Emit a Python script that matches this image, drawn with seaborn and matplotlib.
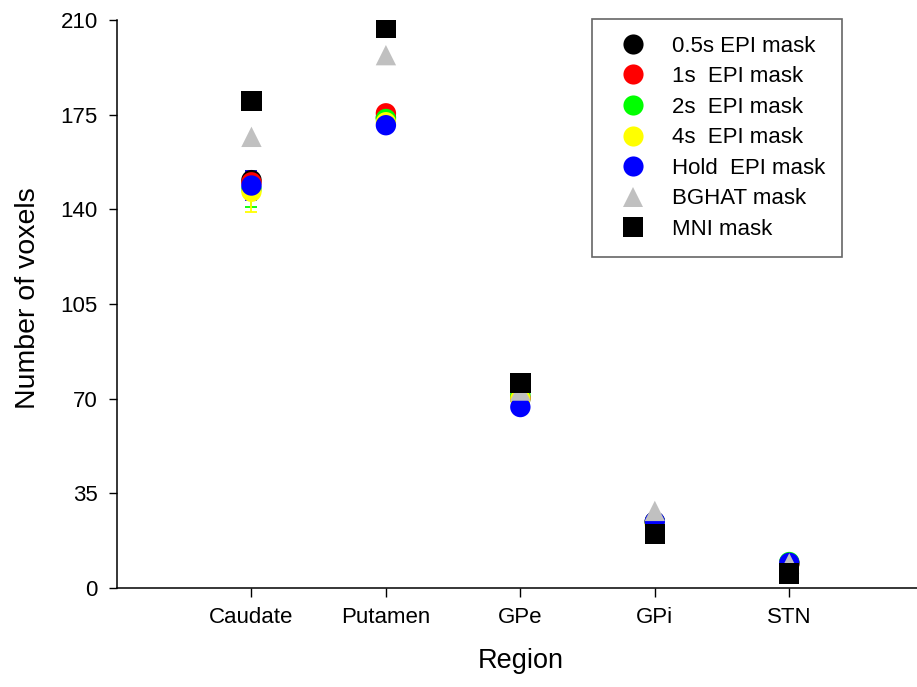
import matplotlib
matplotlib.use("Agg")
import matplotlib.pyplot as plt
import seaborn as sns
import pandas as pd

# ---- data ----
regions = ["Caudate", "Putamen", "GPe", "GPi", "STN"]
masks = ["0.5s EPI mask", "1s  EPI mask", "2s  EPI mask", "4s  EPI mask",
         "Hold  EPI mask", "BGHAT mask", "MNI mask"]
epi_05s = [150.8, 174.0, 70.0, 24.5, 9.0]
epi_1s = [150.0, 175.5, 70.5, 24.5, 9.0]
epi_2s = [147.5, 173.4, 71.5, 24.5, 9.6]
epi_4s = [146.5, 172.2, 70.0, 23.5, 9.0]
epi_hold = [148.8, 171.1, 66.9, 24.6, 9.3]
bghat = [166.8, 197.0, 73.0, 28.5, 9.1]
mni = [180.1, 207.0, 75.7, 19.9, 5.4]
# caudate error bars (EPI masks)
caudate_err = [2.8, 3.0, 6.5, 7.5, 5.5]
y_ticks = [0, 35, 70, 105, 140, 175, 210]

colors = ["#000000", "#FF0000", "#00FF00", "#FFFF00", "#0000FF", "#C0C0C0", "#000000"]
marker_list = ["o", "o", "o", "o", "o", "^", "s"]

series = [epi_05s, epi_1s, epi_2s, epi_4s, epi_hold, bghat, mni]
rows = []
for m, vals in zip(masks, series):
    for r, v in zip(regions, vals):
        rows.append({"Region": r, "Mask": m, "Voxels": v})
df = pd.DataFrame(rows)

sns.set_style("ticks")
plt.rcParams["font.family"] = ["Liberation Sans", "DejaVu Sans"]
plt.rcParams["text.color"] = "black"
plt.rcParams["axes.labelcolor"] = "black"
plt.rcParams["xtick.color"] = "black"
plt.rcParams["ytick.color"] = "black"

fig = plt.figure(figsize=(9.17, 6.87), dpi=100)
ax = fig.add_axes([117 / 917, 1 - 588 / 687, 800 / 917, 568 / 687])

# error bars for caudate (drawn beneath markers)
for i, err in enumerate(caudate_err):
    ax.errorbar([regions[0]], [series[i][0]], yerr=[err], fmt="none",
                ecolor=colors[i], elinewidth=1.3, capsize=4, capthick=1.3, zorder=1)

sns.scatterplot(data=df, x="Region", y="Voxels", hue="Mask", style="Mask",
                hue_order=masks, style_order=masks,
                palette=dict(zip(masks, colors)),
                markers=dict(zip(masks, marker_list)),
                s=215, linewidth=0, ax=ax, zorder=2, legend="full")

ax.set_xlim(-1, 4.95)
ax.set_ylim(0, 210)
ax.set_yticks(y_ticks)
ax.set_yticklabels([str(t) for t in y_ticks])
ax.set_xticks(range(len(regions)))
ax.set_xticklabels(regions)

for side in ["top", "right"]:
    ax.spines[side].set_visible(False)
for side in ["left", "bottom"]:
    ax.spines[side].set_linewidth(1.1)
    ax.spines[side].set_color("black")

ax.tick_params(axis="y", direction="out", length=5.8, width=1.0, pad=8,
               labelsize=16, colors="black")
ax.tick_params(axis="x", direction="out", length=6.5, width=1.0, pad=7.5,
               labelsize=16, colors="black")

ax.set_xlabel("Region", fontsize=19.5, color="black")
ax.set_ylabel("Number of voxels", fontsize=20.5, color="black")
ax.xaxis.set_label_coords(0.505, -0.105)
ax.yaxis.set_label_coords(-0.095, 0.51)

handles, labels = ax.get_legend_handles_labels()
leg = ax.legend(handles, labels, loc="upper left",
                bbox_to_anchor=(591.7 / 917, 1 - 19 / 687),
                bbox_transform=fig.transFigure, borderaxespad=0,
                fontsize=16, frameon=True, fancybox=False,
                borderpad=0.75, handlelength=2.2, handletextpad=0.66,
                labelspacing=0.43, markerscale=1.0)
leg.get_frame().set_edgecolor("#404040")
leg.get_frame().set_linewidth(1.2)
for t in leg.get_texts():
    t.set_color("black")
for h in leg.legend_handles:
    try:
        h.set_markersize(14.5)
    except Exception:
        pass

fig.savefig("out.png", dpi=100)
